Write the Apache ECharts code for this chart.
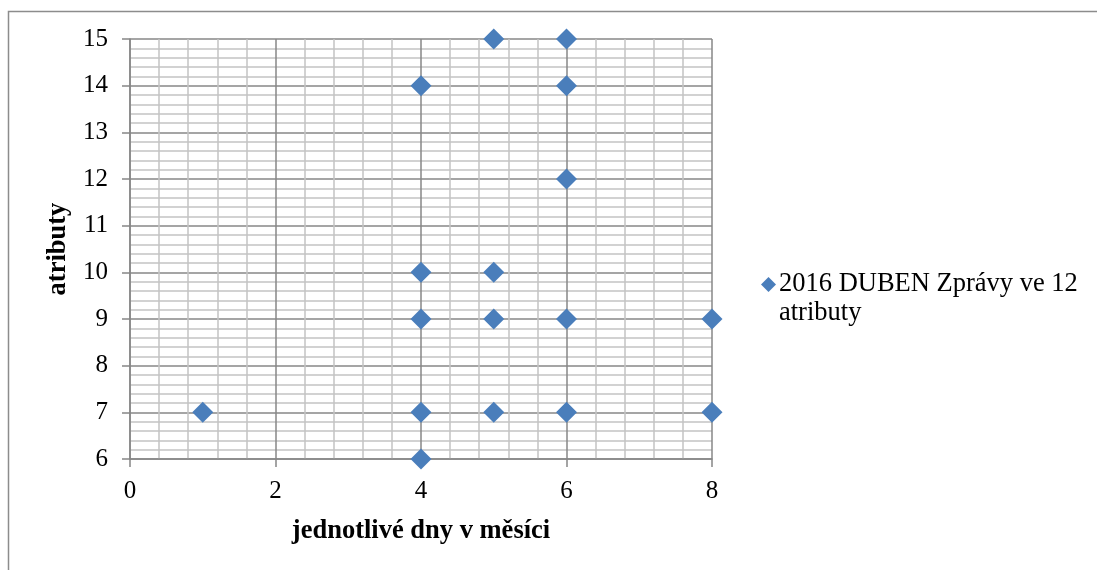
<!DOCTYPE html>
<html>
<head>
<meta charset="utf-8">
<script src="https://cdn.jsdelivr.net/npm/echarts@6/dist/echarts.min.js"></script>
<style>
  html, body { margin: 0; padding: 0; background: #fff; }
  #chart { width: 1097px; height: 570px; }
</style>
</head>
<body>
<div id="chart"></div>
<script>
// Day of month for each message, and number of attributes
const days = [1, 4, 4, 4, 4, 4, 5, 5, 5, 5, 6, 6, 6, 6, 6, 8, 8];
const attributes = [7, 14, 10, 9, 7, 6, 15, 10, 9, 7, 15, 14, 12, 9, 7, 9, 7];
const seriesName = '2016 DUBEN Zprávy ve 12 atributy';
const xAxisName = 'jednotlivé dny v měsíci';
const yAxisName = 'atributy';

const points = days.map((d, i) => [d, attributes[i]]);

const serif = 'Liberation Serif';
const major = '#878787';
const minor = '#c3c3c3';

const chart = echarts.init(document.getElementById('chart'));
chart.setOption({
  animation: false,
  backgroundColor: '#fff',
  textStyle: { fontFamily: serif },
  graphic: [{
    type: 'rect',
    shape: { x: 8.5, y: 11.5, width: 1200, height: 700 },
    style: { fill: 'none', stroke: '#8c8c8c', lineWidth: 1.5 },
    silent: true
  }],
  grid: { left: 130, right: 385, top: 39, bottom: 111 },
  legend: {
    left: 756,
    top: 236,
    orient: 'vertical',
    icon: 'diamond',
    itemWidth: 15,
    itemHeight: 15,
    itemGap: 0,
    // blank first line keeps the marker level with the first text line
    formatter: () => ' \n2016 DUBEN Zprávy ve 12\natributy',
    textStyle: {
      fontFamily: serif, fontSize: 26.5, color: '#000',
      lineHeight: 29, padding: [0, 0, 0, -2]
    },
    data: [seriesName]
  },
  xAxis: {
    type: 'value',
    min: 0, max: 8, interval: 2,
    name: xAxisName,
    nameLocation: 'middle',
    nameGap: 59,
    nameTextStyle: { fontFamily: serif, fontSize: 26.5, fontWeight: 'bold', color: '#000' },
    axisLine: { show: true, onZero: false, lineStyle: { color: major, width: 1.5 } },
    axisTick: { show: true, length: 8, lineStyle: { color: major, width: 1.5 } },
    axisLabel: { margin: 20, fontFamily: serif, fontSize: 25, color: '#000' },
    splitLine: { show: true, lineStyle: { color: major, width: 1.5 } },
    minorTick: { show: false, splitNumber: 5 },
    minorSplitLine: { show: true, lineStyle: { color: minor, width: 1.5 } }
  },
  yAxis: {
    type: 'value',
    min: 6, max: 15, interval: 1,
    name: yAxisName,
    nameLocation: 'middle',
    nameGap: 58,
    nameRotate: 90,
    nameTextStyle: { fontFamily: serif, fontSize: 26.5, fontWeight: 'bold', color: '#000' },
    axisLine: { show: true, onZero: false, lineStyle: { color: major, width: 1.5 } },
    axisTick: { show: true, length: 8, lineStyle: { color: major, width: 1.5 } },
    axisLabel: { margin: 22, fontFamily: serif, fontSize: 25, color: '#000' },
    splitLine: { show: true, lineStyle: { color: major, width: 1.5 } },
    minorTick: { show: false, splitNumber: 5 },
    minorSplitLine: { show: true, lineStyle: { color: minor, width: 1.5 } }
  },
  series: [{
    name: seriesName,
    type: 'scatter',
    symbol: 'diamond',
    symbolSize: 21,
    itemStyle: { color: '#4a7ebb', opacity: 1 },
    data: points
  }]
});
</script>
</body>
</html>
